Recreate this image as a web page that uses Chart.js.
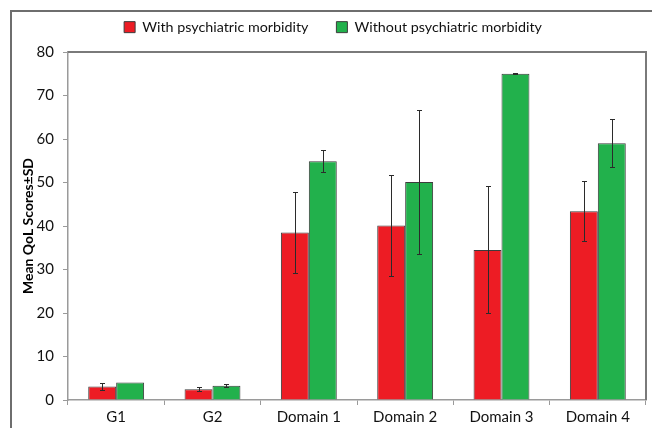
<!DOCTYPE html>
<html>
<head>
<meta charset="utf-8">
<script src="https://cdn.jsdelivr.net/npm/chart.js@4"></script>
<style>
  body { margin: 0; background: #fff; }
  .chart-box { position: relative; width: 652px; height: 428px; }
  .frame {
    position: absolute; left: 10px; top: 10px; width: 660px; height: 440px;
    border-left: 2px solid #6e6e6e; border-top: 2px solid #6e6e6e;
    pointer-events: none;
  }
</style>
</head>
<body>
<div class="chart-box">
  <canvas id="qolChart"></canvas>
  <div class="frame"></div>
</div>
<script>
  // values
  const groups = ["G1", "G2", "Domain 1", "Domain 2", "Domain 3", "Domain 4"];
  const withMorbidity = [3.1, 2.5, 38.5, 40.1, 34.5, 43.4];
  const withMorbiditySD = [0.85, 0.5, 9.4, 11.7, 14.6, 6.9];
  const withoutMorbidity = [4.0, 3.3, 54.9, 50.1, 75.0, 59.0];
  const withoutMorbiditySD = [0, 0.35, 2.5, 16.6, 0.1, 5.5];
  const yTicks = [0, 10, 20, 30, 40, 50, 60, 70, 80];

  const sdLists = [withMorbiditySD, withoutMorbiditySD];

  // draws the ±SD whiskers on top of each bar
  const errorBars = {
    id: "errorBars",
    afterDatasetsDraw(chart) {
      const ctx = chart.ctx;
      const yScale = chart.scales.y;
      ctx.save();
      ctx.strokeStyle = "#2b2b2b";
      ctx.lineWidth = 1;
      chart.data.datasets.forEach((ds, i) => {
        const meta = chart.getDatasetMeta(i);
        meta.data.forEach((bar, j) => {
          const sd = sdLists[i][j];
          if (!sd) return;
          const top = Math.round(yScale.getPixelForValue(ds.data[j] + sd)) + 0.5;
          const bot = Math.round(yScale.getPixelForValue(ds.data[j] - sd)) + 0.5;
          const x = Math.round(bar.x) + 0.5;
          ctx.beginPath();
          ctx.moveTo(x, top); ctx.lineTo(x, bot);
          ctx.moveTo(x - 2.5, top); ctx.lineTo(x + 2.5, top);
          ctx.moveTo(x - 2.5, bot); ctx.lineTo(x + 2.5, bot);
          ctx.stroke();
        });
      });
      ctx.restore();
    }
  };

  // top and right edge of the plot area
  const plotFrame = {
    id: "plotFrame",
    beforeDatasetsDraw(chart) {
      const { left, top, right } = chart.chartArea;
      const ctx = chart.ctx;
      ctx.save();
      ctx.strokeStyle = "#7a7a7a";
      ctx.lineWidth = 2;
      ctx.beginPath();
      ctx.moveTo(left, top);
      ctx.lineTo(right, top);
      ctx.lineTo(right, chart.chartArea.bottom);
      ctx.stroke();
      ctx.restore();
    }
  };

  // fixed legend height so the plot starts where it does in the figure
  const legendHeight = {
    id: "legendHeight",
    beforeInit(chart) {
      const fit = chart.legend.fit;
      chart.legend.fit = function () {
        fit.bind(chart.legend)();
        this.height = 60;
      };
    }
  };

  Chart.defaults.font.family = "Lato, 'Open Sans', sans-serif";
  Chart.defaults.color = "#111";

  const ctx = document.getElementById("qolChart").getContext("2d");
  new Chart(ctx, {
    type: "bar",
    data: {
      labels: groups,
      datasets: [
        {
          label: "With psychiatric morbidity",
          data: withMorbidity,
          backgroundColor: "#ed1c24",
          borderColor: "#3c3c3c",
          borderWidth: 1,
          categoryPercentage: 0.58,
          barPercentage: 1.0,
        },
        {
          label: "Without psychiatric morbidity",
          data: withoutMorbidity,
          backgroundColor: "#22b14c",
          borderColor: "#3c3c3c",
          borderWidth: 1,
          categoryPercentage: 0.58,
          barPercentage: 1.0,
        },
      ],
    },
    options: {
      responsive: true,
      maintainAspectRatio: false,
      animation: false,
      layout: { padding: { top: -8, left: 20, right: 6, bottom: 2 } },
      plugins: {
        legend: {
          position: "top",
          labels: {
            boxWidth: 11,
            boxHeight: 11,
            padding: 28,
            font: { size: 14.3 },
            color: "#111",
          },
        },
        tooltip: { enabled: false },
      },
      scales: {
        x: {
          afterFit(scale) { scale.height = 26; },
          grid: {
            drawOnChartArea: false,
            tickLength: 5,
            color: "#9a9a9a",
          },
          border: { color: "#9a9a9a", width: 1.5 },
          ticks: { font: { size: 15 }, padding: 3, color: "#111" },
        },
        y: {
          min: 0,
          max: 80,
          afterBuildTicks(scale) {
            scale.ticks = yTicks.map(v => ({ value: v }));
          },
          afterFit(scale) { scale.width = 48; },
          grid: {
            drawOnChartArea: false,
            tickLength: 5,
            color: "#9a9a9a",
          },
          border: { color: "#9a9a9a", width: 1.5 },
          ticks: { font: { size: 15 }, padding: 9, color: "#111" },
          title: {
            display: true,
            text: "Mean QoL Scores±SD",
            font: { size: 14, weight: "bold" },
            color: "#000",
            padding: { top: 0, bottom: 4 },
          },
        },
      },
    },
    plugins: [plotFrame, errorBars, legendHeight],
  });
</script>
</body>
</html>
